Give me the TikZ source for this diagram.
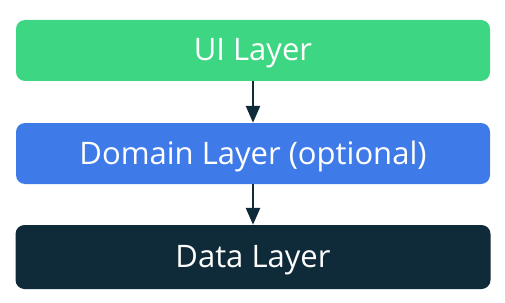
\documentclass[tikz,border=0pt]{standalone}
\usepackage{fontspec}
\setmainfont{Open Sans}
\usetikzlibrary{arrows.meta}
\definecolor{uigreen}{HTML}{3DD682}
\definecolor{domblue}{HTML}{3F7BE8}
\definecolor{datadark}{HTML}{0F2A38}
\tikzset{
  layerbox/.style={rectangle, rounded corners=9pt, minimum width=474pt, minimum height=61pt,
    text=white, font=\fontsize{31}{36}\selectfont, inner sep=0pt},
  layertext/.style={text=white, font=\fontsize{31}{36}\selectfont, inner sep=0pt},
  flowarrow/.style={draw=datadark, line width=2.6pt, -{Triangle[width=14pt,length=17pt]}}
}
\begin{document}
\begin{tikzpicture}[x=1pt,y=-1pt]
\useasboundingbox (0,0) rectangle (505,302);
\node[layerbox, fill=uigreen] (ui) at (253,50.5) {};
\node[layerbox, fill=domblue] (dom) at (253,153.5) {};
\node[layerbox, fill=datadark, minimum width=475pt, minimum height=64pt] (data) at (253,257) {};
\node[layertext] (uit) at ([yshift=-3pt]ui.center) {UI Layer};
\node[layertext] (domt) at ([yshift=-3pt]dom.center) {Domain Layer (optional)};
\node[layertext] (datat) at ([yshift=-3pt]data.center) {Data Layer};
\draw[flowarrow] (ui.south) -- (dom.north);
\draw[flowarrow] (dom.south) -- (data.north);
\end{tikzpicture}
\end{document}
